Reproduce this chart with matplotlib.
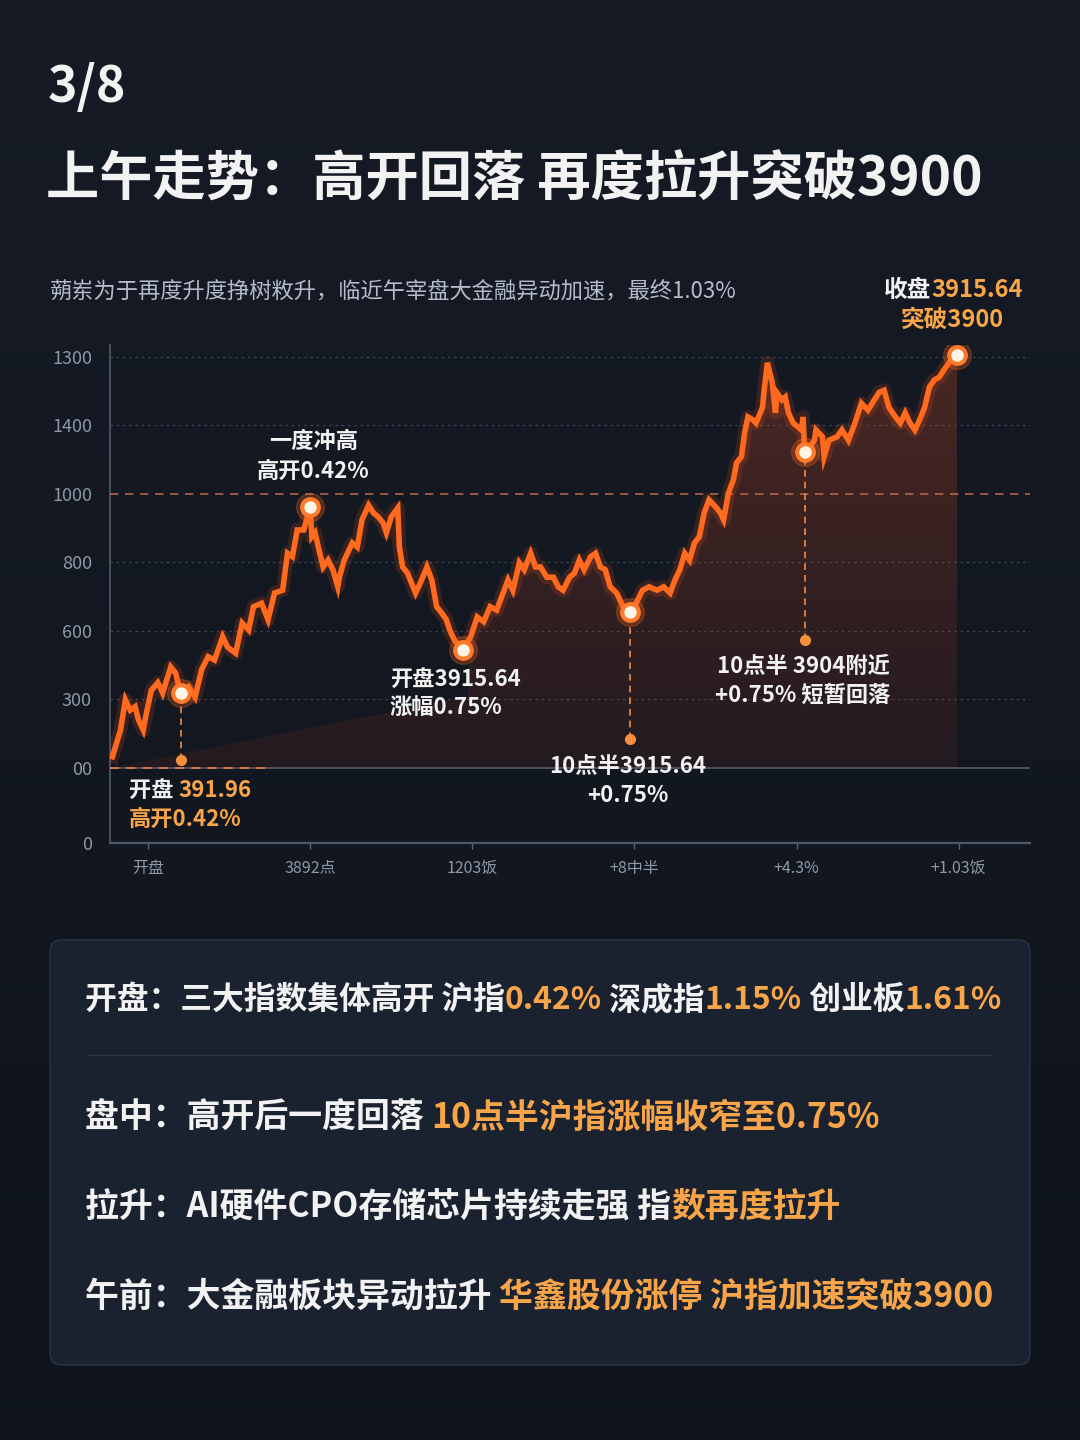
import matplotlib
matplotlib.use('Agg')
import matplotlib.pyplot as plt
import numpy as np
from matplotlib.patches import FancyBboxPatch, Polygon
from matplotlib.offsetbox import TextArea, HPacker, AnnotationBbox

plt.rcParams['font.family'] = ['Noto Sans CJK SC', 'DejaVu Sans']

# ── Data ─────────────────────────────────────────────────────────────
x_ticks = [0, 1, 2, 3, 4, 5]
x_labels = ['开盘', '3892点', '1203饭', '+8中半', '+4.3%', '+1.03饭']
y_ticks = [0, 110, 210, 310, 410, 510, 610, 710]
y_labels = ['0', '00', '300', '600', '800', '1000', '1400', '1300']

x_pos = [-0.22, -0.17, -0.14, -0.11, -0.08, -0.06, -0.03, -0.01, 0.02, 0.06,
         0.09, 0.14, 0.17, 0.20, 0.25, 0.29, 0.33, 0.37, 0.41, 0.46,
         0.49, 0.54, 0.58, 0.62, 0.65, 0.70, 0.74, 0.78, 0.83, 0.86,
         0.89, 0.92, 0.96, 0.99, 1.00, 1.01, 1.03, 1.05, 1.08, 1.11,
         1.14, 1.17, 1.18, 1.21, 1.26, 1.29, 1.32, 1.36, 1.39, 1.42,
         1.45, 1.47, 1.50, 1.54, 1.55, 1.57, 1.60, 1.65, 1.68, 1.72,
         1.75, 1.78, 1.81, 1.84, 1.86, 1.89, 1.94, 1.99, 2.03, 2.07,
         2.11, 2.15, 2.19, 2.22, 2.25, 2.29, 2.32, 2.36, 2.39, 2.42,
         2.46, 2.50, 2.53, 2.56, 2.60, 2.63, 2.66, 2.69, 2.73, 2.76,
         2.79, 2.82, 2.85, 2.89, 2.93, 2.97, 3.01, 3.05, 3.09, 3.14,
         3.18, 3.22, 3.25, 3.28, 3.31, 3.34, 3.37, 3.40, 3.43, 3.46,
         3.50, 3.53, 3.55, 3.58, 3.61, 3.63, 3.66, 3.68, 3.70, 3.73,
         3.75, 3.79, 3.80, 3.82, 3.85, 3.87, 3.88, 3.91, 3.93, 3.95,
         3.98, 4.01, 4.03, 4.04, 4.05, 4.08, 4.11, 4.12, 4.16, 4.17,
         4.20, 4.25, 4.28, 4.32, 4.36, 4.40, 4.44, 4.48, 4.51, 4.54,
         4.57, 4.61, 4.64, 4.67, 4.70, 4.73, 4.76, 4.79, 4.82, 4.85,
         4.88, 4.91, 4.94, 4.99]
index_vals = [126, 165, 209, 194, 199, 180, 165, 190, 223, 234,
              219, 257, 248, 219, 228, 213, 253, 272, 267, 301,
              286, 277, 321, 311, 345, 350, 326, 365, 369, 423,
              418, 457, 457, 482, 491, 447, 453, 432, 403, 413,
              399, 374, 388, 413, 438, 432, 472, 493, 482, 476,
              467, 453, 476, 489, 432, 403, 394, 365, 380, 403,
              384, 345, 336, 326, 311, 296, 282, 301, 330, 323,
              345, 340, 365, 384, 369, 409, 399, 423, 403, 403,
              388, 388, 374, 369, 388, 394, 413, 399, 418, 423,
              403, 399, 374, 365, 345, 337, 350, 369, 374, 369,
              374, 365, 384, 399, 423, 413, 438, 447, 482, 501,
              491, 482, 472, 511, 530, 555, 564, 599, 622, 618,
              613, 636, 661, 701, 672, 628, 657, 647, 651, 628,
              613, 607, 603, 622, 571, 578, 588, 603, 593, 564,
              588, 593, 603, 588, 613, 642, 632, 647, 658, 661,
              636, 622, 613, 628, 613, 603, 618, 636, 666, 676,
              680, 691, 701, 712]

key_x = [0.20, 1.00, 1.94, 2.97, 4.05, 4.99]
drop_x = [0.20, 2.97, 4.05]          # markers with a dashed drop line
drop_to = [121, 152, 296]            # where the drop line ends
ref_level = 510                      # orange dashed "1000" line
base_level = 110

# ── Colours ──────────────────────────────────────────────────────────
BG = '#111823'
PANEL = '#1a2230'
ORANGE = '#ff6a1f'
GOLD = '#f8a54a'
WHITE = '#f2f2f2'
GREY = '#8e98a6'

fig = plt.figure(figsize=(10.8, 14.4), dpi=100, facecolor=BG)

# ── Background axes in pixel coordinates (y downward) ────────────────
bg = fig.add_axes([0, 0, 1, 1], zorder=0)
bg.set_xlim(0, 1080)
bg.set_ylim(1440, 0)
bg.axis('off')
grad = np.linspace(0, 1, 256)[:, None]
top_c = np.array([0.085, 0.105, 0.145])
bot_c = np.array([0.058, 0.078, 0.108])
bg_img = top_c * (1 - grad[..., None]) + bot_c * grad[..., None]
bg.imshow(bg_img, extent=[0, 1080, 1440, 0], aspect='auto', zorder=0)

bg.text(48, 88, '3/8', color=WHITE, fontsize=36, fontweight='bold',
        ha='left', va='center')
bg.text(46, 180, '上午走势：高开回落 再度拉升突破3900', color=WHITE,
        fontsize=38.3, fontweight='bold', ha='left', va='center')
bg.text(50, 292, '蒴岽为于再度升度挣树敉升，临近午宰盘大金融异动加速，最终1.03%',
        color='#b4bcc8', fontsize=16, ha='left', va='center')


def multi_text(ax, segments, xy, size, align=(0, 0.5), weight='bold',
               coords='data'):
    kids = [TextArea(s, textprops=dict(color=c, fontsize=size,
                                       fontweight=weight))
            for s, c in segments]
    box = HPacker(children=kids, align='baseline', pad=0, sep=0)
    ab = AnnotationBbox(box, xy, xycoords=coords, box_alignment=align,
                        frameon=False, pad=0, zorder=6)
    ax.add_artist(ab)


multi_text(bg, [('收盘', WHITE), ('3915.64', GOLD)], (953, 290), 17,
           align=(0.5, 0.5))
bg.text(953, 320, '突破3900', color=GOLD, fontsize=17, fontweight='bold',
        ha='center', va='center')

# ── Summary panel ────────────────────────────────────────────────────
panel = FancyBboxPatch((50, 940), 980, 425,
                       boxstyle='round,pad=0,rounding_size=12',
                       facecolor=PANEL, edgecolor='#283142', linewidth=1.2,
                       zorder=1)
bg.add_patch(panel)
bg.plot([88, 992], [1055, 1055], color='#2c3545', lw=1, zorder=2)

rows = [
    (1000, 22.9, [('开盘：三大指数集体高开 沪指', WHITE), ('0.42%', GOLD),
                  (' 深成指', WHITE), ('1.15%', GOLD), (' 创业板', WHITE),
                  ('1.61%', GOLD)]),
    (1117, 24.4, [('盘中：高开后一度回落 ', WHITE),
                  ('10点半沪指涨幅收窄至0.75%', GOLD)]),
    (1206, 24.4, [('拉升：AI硬件CPO存储芯片持续走强 指', WHITE),
                  ('数再度拉升', GOLD)]),
    (1296, 24.4, [('午前：大金融板块异动拉升 ', WHITE),
                  ('华鑫股份涨停 沪指加速突破3900', GOLD)]),
]
for y, size, segs in rows:
    multi_text(bg, segs, (85, y), size)

# ── Chart axes ───────────────────────────────────────────────────────
ax = fig.add_axes([110 / 1080, 597 / 1440, 920 / 1080, 498 / 1440], zorder=2)
ax.set_facecolor('none')
xmin, xmax = -0.235, 5.44
ax.set_xlim(xmin, xmax)
ax.set_ylim(0, 727)

for lvl in y_ticks[2:]:
    if lvl == ref_level:
        continue
    ax.axhline(lvl, color='#3a4452', lw=0.9, ls=(0, (2, 3)), zorder=1)
ax.axhline(base_level, color='#4d5867', lw=1.3, zorder=1)
ax.axhline(ref_level, color='#c8714c', lw=1.2, ls=(0, (5, 4)), alpha=0.85,
           zorder=3)

xs = np.array(x_pos)
ys = np.array(index_vals)

# gradient fill under the line
i_cut = x_pos.index(1.99)
poly_pts = ([(xs[0], base_level), (1.97, 214)]
            + list(zip(xs[i_cut:], ys[i_cut:]))
            + [(xs[-1], base_level)])
poly = Polygon(poly_pts, closed=True, facecolor='none', edgecolor='none')
ax.add_patch(poly)
g = np.linspace(0, 1, 256)[:, None]
fill_rgba = np.zeros((256, 1, 4))
fill_rgba[..., 0] = 0.75
fill_rgba[..., 1] = 0.25 + 0.03 * g
fill_rgba[..., 2] = 0.14
fill_rgba[..., 3] = 0.10 + 0.22 * g
im = ax.imshow(fill_rgba, extent=[xmin, xmax, base_level, 720],
               origin='lower', aspect='auto', zorder=2)
im.set_clip_path(poly)

ax.plot(xs, ys, color='#ff5a1a', lw=10, alpha=0.16, zorder=4,
        solid_joinstyle='round')
ax.plot(xs, ys, color=ORANGE, lw=4.0, zorder=5, solid_joinstyle='miter')

# drop lines
for dx, dy in zip(drop_x, drop_to):
    ky = ys[x_pos.index(dx)]
    ax.plot([dx, dx], [dy, ky], color='#f08a4a', lw=1.2, ls=(0, (4, 3)),
            zorder=4)
    ax.plot(dx, dy, 'o', ms=7, color='#f5903c', zorder=6)
ax.plot([xmin, 0.75], [base_level, base_level], color='#e07a44', lw=1.3,
        ls=(0, (5, 4)), zorder=4)

# key markers
for kx in key_x:
    ky = ys[x_pos.index(kx)]
    ax.plot(kx, ky, 'o', ms=20, color='#ff6a1f', alpha=0.25, zorder=6)
    ax.plot(kx, ky, 'o', ms=12, mfc='#fff5e6', mec='#ff7a2a', mew=3, zorder=7)

# annotations
ann = dict(color=WHITE, fontsize=16, fontweight='bold', zorder=8)
ax.text(1.02, 587, '一度冲高', ha='center', va='center', **ann)
ax.text(1.02, 543, '高开0.42%', ha='center', va='center', **ann)
ax.text(1.49, 239, '开盘3915.64', ha='left', va='center', **ann)
ax.text(1.49, 196, '涨幅0.75%', ha='left', va='center', **ann)
ax.text(2.96, 112, '10点半3915.64', ha='center', va='center', **ann)
ax.text(2.96, 70, '+0.75%', ha='center', va='center', **ann)
ax.text(4.04, 258, '10点半 3904附近', ha='center', va='center', **ann)
ax.text(4.04, 216, '+0.75% 短暂回落', ha='center', va='center', **ann)
multi_text(ax, [('开盘 ', WHITE), ('391.96', GOLD)], (-0.12, 77), 16)
ax.text(-0.12, 34, '高开0.42%', color=GOLD, fontsize=16, fontweight='bold',
        ha='left', va='center', zorder=8)

# axes styling
for side in ['top', 'right']:
    ax.spines[side].set_visible(False)
ax.spines['left'].set_color('#4f5a69')
ax.spines['bottom'].set_color('#4f5a69')
ax.spines['left'].set_linewidth(1.2)
ax.spines['bottom'].set_linewidth(1.6)
ax.set_yticks(y_ticks)
ax.set_yticklabels(y_labels)
ax.set_xticks(x_ticks)
ax.set_xticklabels(x_labels)
ax.tick_params(axis='y', length=0, pad=13, labelsize=13, labelcolor=GREY)
ax.tick_params(axis='x', length=4, width=1, color='#5a6573', pad=8,
               labelsize=11.5, labelcolor=GREY)

fig.savefig('out.png', dpi=100, facecolor=BG)
